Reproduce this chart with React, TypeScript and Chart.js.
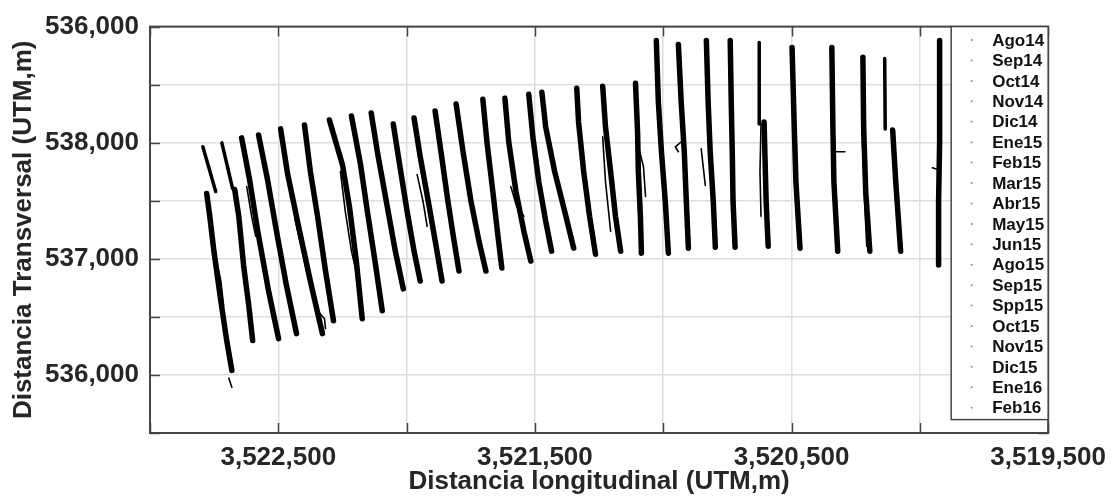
import React, { useEffect, useRef } from 'react';
import { Chart, registerables } from 'chart.js';

Chart.register(...registerables);

type P = [number, number];
type Line = P[];

// Survey months (legend)
const months = ['Ago14', 'Sep14', 'Oct14', 'Nov14', 'Dic14', 'Ene15', 'Feb15', 'Mar15', 'Abr15', 'May15', 'Jun15', 'Ago15', 'Sep15', 'Spp15', 'Oct15', 'Nov15', 'Dic15', 'Ene16', 'Feb16'];

// Axis ticks / gridlines
const xGridValues = [3523000, 3522500, 3522000, 3521500, 3521000, 3520500, 3520000, 3519500];
const xLabelValues = [3522500, 3521500, 3520500, 3519500];
const yGridValues = [535500, 536000, 536500, 537000, 537500, 538000, 538500, 539000];
const yLabelValues = [539000, 538000, 537000, 536000];
const yLabelTexts = ['536,000', '538,000', '537,000', '536,000'];

// Ago14: main profile bundles (UTM x, UTM y)
const ago14: Line[] = [
  [[3522779, 537562], [3522767, 537366], [3522751, 537066], [3522724, 536638], [3522701, 536296], [3522681, 536039]],
  [[3522670, 537597], [3522654, 537366], [3522635, 536938], [3522615, 536596], [3522600, 536296]],
  [[3522643, 538042], [3522612, 537682], [3522580, 537237], [3522538, 536724], [3522499, 536313]],
  [[3522577, 538067], [3522542, 537682], [3522507, 537237], [3522468, 536767], [3522429, 536356]],
  [[3522491, 538119], [3522464, 537734], [3522417, 537237], [3522371, 536767], [3522328, 536356]],
  [[3522398, 538153], [3522375, 537751], [3522347, 537366], [3522316, 536895], [3522285, 536467]],
  [[3522301, 538196], [3522250, 537811], [3522223, 537451], [3522196, 536981], [3522173, 536484]],
  [[3522215, 538230], [3522180, 537819], [3522153, 537408], [3522122, 536963], [3522095, 536553]],
  [[3522138, 538256], [3522114, 537922], [3522079, 537494], [3522044, 537066], [3522013, 536741]],
  [[3522052, 538161], [3522029, 537836], [3521998, 537408], [3521971, 537066], [3521947, 536809]],
  [[3521971, 538213], [3521947, 537879], [3521912, 537451], [3521885, 537109], [3521862, 536809]],
  [[3521889, 538273], [3521866, 537922], [3521839, 537494], [3521815, 537152], [3521796, 536895]],
  [[3521807, 538333], [3521780, 537922], [3521749, 537494], [3521718, 537152], [3521691, 536895]],
  [[3521703, 538375], [3521687, 538007], [3521664, 537580], [3521644, 537194], [3521629, 536921]],
  [[3521617, 538384], [3521602, 538007], [3521574, 537580], [3521543, 537237], [3521516, 536981]],
  [[3521524, 538418], [3521508, 538050], [3521485, 537665], [3521458, 537323], [3521435, 537066]],
  [[3521473, 538435], [3521458, 538136], [3521423, 537751], [3521384, 537408], [3521349, 537092]],
  [[3521337, 538469], [3521330, 538179], [3521310, 537751], [3521287, 537366], [3521264, 537040]],
  [[3521236, 538487], [3521225, 538136], [3521205, 537751], [3521186, 537366], [3521166, 537066]],
  [[3521108, 538512], [3521100, 538093], [3521097, 537751], [3521089, 537366], [3521085, 537049]],
  [[3521027, 538880], [3521019, 538350], [3521007, 537922], [3520992, 537494], [3520980, 537049]],
  [[3520941, 538846], [3520930, 538350], [3520918, 537922], [3520910, 537494], [3520902, 537092]],
  [[3520832, 538880], [3520825, 538350], [3520817, 537922], [3520805, 537494], [3520797, 537100]],
  [[3520739, 538880], [3520735, 538350], [3520731, 537922], [3520728, 537494], [3520720, 537100]],
  [[3520607, 538179], [3520603, 537836], [3520599, 537494], [3520591, 537109]],
  [[3520498, 538820], [3520490, 538179], [3520483, 537665], [3520467, 537092]],
  [[3520343, 538820], [3520339, 538153], [3520335, 537665], [3520320, 537066]],
  [[3520222, 538735], [3520219, 538136], [3520211, 537580], [3520195, 537066]],
  [[3520106, 538110], [3520094, 537665], [3520075, 537066]],
  [[3519923, 538880], [3519923, 538007], [3519927, 537494], [3519927, 536946]],
];

// Sep14: upper, separated profile segments
const sep14: Line[] = [
  [[3522794, 537965], [3522744, 537580]],
  [[3522720, 537999], [3522678, 537605]],
  [[3520626, 538863], [3520626, 538161]],
  [[3520137, 538726], [3520135, 538119]],
];

// Remaining months: individual strands
const oct14: Line[] = [[[3522744, 537023], [3522724, 536809], [3522713, 536596]]];
const nov14: Line[] = [[[3522460, 537708], [3522433, 537323], [3522390, 536895], [3522347, 536553], [3522320, 536484], [3522316, 536399]]];
const dic14: Line[] = [[[3522258, 537751], [3522239, 537408], [3522215, 537066], [3522188, 536809]]];
const ene15: Line[] = [[[3521959, 537725], [3521936, 537494], [3521920, 537280]]];
const feb15: Line[] = [[[3521757, 537580], [3521745, 537408], [3521730, 537306]]];
const mar15: Line[] = [[[3521594, 537622], [3521571, 537451], [3521543, 537366]]];
const abr15: Line[] = [[[3521236, 538050], [3521225, 537665], [3521205, 537237]]];
const may15: Line[] = [[[3521104, 538033], [3521077, 537793], [3521069, 537537]]];
const jun15: Line[] = [[[3520930, 538007], [3520953, 537965], [3520941, 537922]]];
const ago15: Line[] = [[[3520619, 538161], [3520623, 537751], [3520619, 537366]]];
const sep15: Line[] = [[[3520335, 537922], [3520292, 537922]]];
const spp15: Line[] = [[[3519951, 537785], [3519927, 537768]]];
const oct15: Line[] = [[[3522623, 537622], [3522604, 537366], [3522588, 537194]]];
const nov15: Line[] = [[[3522169, 537622], [3522149, 537323], [3522134, 537066]]];
const dic15: Line[] = [[[3520852, 537947], [3520836, 537631]]];
const ene16: Line[] = [[[3520226, 538136], [3520215, 537494], [3520207, 537109]]];
const feb16: Line[] = [[[3522693, 535971], [3522681, 535894]]];

const surveys: Line[][] = [ago14, sep14, oct14, nov14, dic14, ene15, feb15, mar15, abr15, may15, jun15, ago15, sep15, spp15, oct15, nov15, dic15, ene16, feb16];

const FONT = "'Liberation Sans', Arial, Helvetica, sans-serif";
const TEXT = '#262626';
const AXIS = '#454545';

function flatten(lines: Line[]) {
  const out: { x: number; y: number }[] = [];
  lines.forEach((l, i) => {
    if (i > 0) out.push({ x: NaN, y: NaN });
    l.forEach(([x, y]) => out.push({ x, y }));
  });
  return out;
}

const fmt = (v: number) => v.toLocaleString('en-US');

const framePlugin = {
  id: 'framePlugin',
  afterDatasetsDraw(chart: any) {
    const { ctx, chartArea: a, scales } = chart;
    ctx.save();
    // inward tick marks
    ctx.strokeStyle = AXIS;
    ctx.lineWidth = 1.5;
    ctx.beginPath();
    xGridValues.forEach((v) => {
      const px = Math.round(scales.x.getPixelForValue(v)) + 0.5;
      ctx.moveTo(px, a.bottom);
      ctx.lineTo(px, a.bottom - 10);
      ctx.moveTo(px, a.top);
      ctx.lineTo(px, a.top + 10);
    });
    yGridValues.forEach((v) => {
      const py = Math.round(scales.y.getPixelForValue(v)) + 0.5;
      ctx.moveTo(a.left, py);
      ctx.lineTo(a.left + 10, py);
      ctx.moveTo(a.right, py);
      ctx.lineTo(a.right - 10, py);
    });
    ctx.stroke();
    // box
    ctx.lineWidth = 2;
    ctx.strokeRect(a.left, a.top, a.right - a.left, a.bottom - a.top);

    // legend
    const lw = 97;
    const lx = a.right - lw;
    const ly = a.top;
    const lh = 393;
    ctx.fillStyle = '#ffffff';
    ctx.fillRect(lx, ly, lw, lh);
    ctx.lineWidth = 1.5;
    ctx.strokeStyle = AXIS;
    ctx.strokeRect(lx, ly, lw, lh);
    ctx.font = `bold 17px ${FONT}`;
    ctx.textBaseline = 'middle';
    ctx.textAlign = 'left';
    chart.data.datasets.forEach((ds: any, i: number) => {
      const y = ly + 13.5 + i * 20.42;
      ctx.fillStyle = '#8a8a8a';
      ctx.beginPath();
      ctx.arc(lx + 20.5, y, 1, 0, Math.PI * 2);
      ctx.fill();
      ctx.fillStyle = '#111111';
      ctx.fillText(ds.label, lx + 41, y + 1);
    });
    ctx.restore();
  },
};

export default function App() {
  const ref = useRef<HTMLCanvasElement | null>(null);

  useEffect(() => {
    if (!ref.current) return;
    const datasets = months.map((m, i) => ({
      label: m,
      data: flatten(surveys[i]),
      showLine: true,
      spanGaps: false,
      borderColor: '#000000',
      backgroundColor: '#000000',
      borderWidth: i === 0 ? 5.5 : i === 1 ? 3.5 : 1.6,
      borderJoinStyle: 'round' as const,
      borderCapStyle: 'round' as const,
      pointRadius: 0,
      pointHoverRadius: 0,
      tension: 0,
    }));

    const chart = new Chart(ref.current, {
      type: 'scatter',
      data: { datasets },
      options: {
        responsive: false,
        animation: false,
        devicePixelRatio: 1,
        layout: { padding: { top: 24, right: 64, left: 0, bottom: 0 } },
        plugins: { legend: { display: false }, tooltip: { enabled: false } },
        events: [],
        scales: {
          x: {
            type: 'linear',
            reverse: true,
            min: 3519500,
            max: 3523000,
            afterBuildTicks: (s: any) => {
              s.ticks = xGridValues.map((v) => ({ value: v }));
            },
            afterFit: (s: any) => {
              s.height = 69;
            },
            grid: { color: '#dedede', lineWidth: 1.5, drawTicks: false },
            border: { display: true, color: AXIS, width: 2 },
            ticks: {
              autoSkip: false,
              maxRotation: 0,
              padding: 9,
              color: TEXT,
              font: { family: FONT, size: 26, weight: 'bold' },
              callback: (v: any) => (xLabelValues.includes(Number(v)) ? fmt(Number(v)) : ''),
            },
            title: {
              display: true,
              text: 'Distancia longitudinal (UTM,m)',
              color: TEXT,
              font: { family: FONT, size: 26, weight: 'bold' },
              padding: { top: 0, bottom: 5 },
            },
          },
          y: {
            type: 'linear',
            min: 535500,
            max: 539000,
            afterBuildTicks: (s: any) => {
              s.ticks = yGridValues.map((v) => ({ value: v }));
            },
            afterFit: (s: any) => {
              s.width = 150;
            },
            grid: { color: '#dedede', lineWidth: 1.5, drawTicks: false },
            border: { display: true, color: AXIS, width: 2 },
            ticks: {
              autoSkip: false,
              padding: 11,
              color: TEXT,
              font: { family: FONT, size: 26, weight: 'bold' },
              callback: (v: any) => {
                const k = yLabelValues.indexOf(Number(v));
                return k >= 0 ? yLabelTexts[k] : '';
              },
            },
            title: {
              display: true,
              text: 'Distancia Transversal (UTM,m)',
              color: TEXT,
              font: { family: FONT, size: 26, weight: 'bold' },
              padding: { top: 8, bottom: 0 },
            },
          },
        },
      },
      plugins: [framePlugin],
    });
    return () => chart.destroy();
  }, []);

  return (
    <div style={{ position: 'absolute', left: 0, top: 0, width: 1115, height: 502, background: '#fff' }}>
      <canvas ref={ref} width={1115} height={502} style={{ display: 'block' }} />
    </div>
  );
}
